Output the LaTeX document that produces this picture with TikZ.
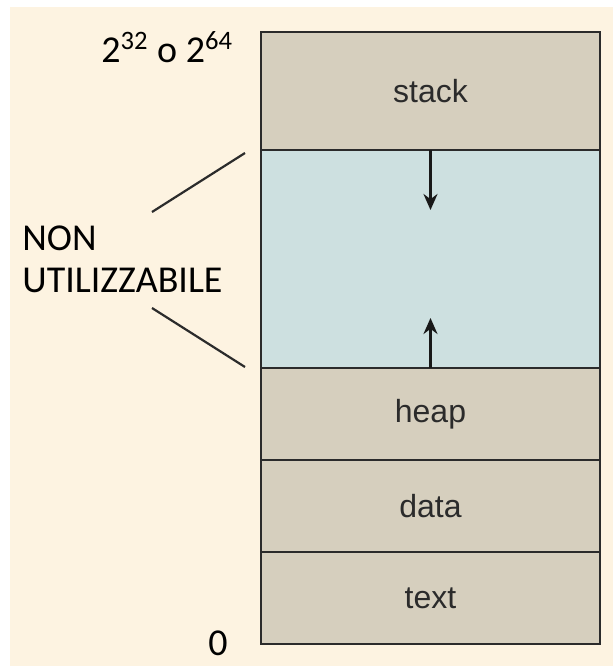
\documentclass[tikz,border=0pt]{standalone}
\usepackage{fontspec}
\setmainfont{Liberation Sans}
\newfontfamily\labfont{Carlito}
\usetikzlibrary{positioning}
\usetikzlibrary{arrows.meta}

\definecolor{cream}{HTML}{FDF3E1}
\definecolor{tan}{HTML}{D6CFBE}
\definecolor{gapblue}{HTML}{CDE0E0}
\definecolor{ink}{HTML}{2B2B2B}

\tikzset{
  seg/.style={draw=ink, line width=1pt, fill=tan, minimum width=169.5pt,
    inner sep=0pt, outer sep=0pt, font=\fontsize{16}{19}\selectfont, text=ink},
  growarrow/.style={-{Stealth[length=8pt,width=7pt]}, line width=1.7pt, black!90},
  leadline/.style={line width=1.1pt, ink},
  sidelabel/.style={inner sep=0pt, font=\labfont\fontsize{19}{21}\selectfont, text=black}
}

\begin{document}
\begin{tikzpicture}[x=0.5pt, y=-0.5pt]
  \useasboundingbox (0,0) rectangle (613,666);
  \fill[white] (0,0) rectangle (613,666);
  \fill[cream] (10,7) rectangle (613,666);

  % Memory layout
  \node[seg, minimum height=59pt, anchor=north west] (stack) at (261,32) {stack};
  \node[seg, minimum height=109pt, fill=gapblue, below=0pt of stack] (gap) {};
  \node[seg, minimum height=46pt, below=0pt of gap] (heap) {heap};
  \node[seg, minimum height=46pt, below=0pt of heap] (data) {data};
  \node[seg, minimum height=46pt, below=0pt of data] (text) {text};

  % Growth arrows
  \draw[growarrow] (gap.north) -- ++(0,60);
  \draw[growarrow] (gap.south) -- ++(0,-50);

  % Addresses
  \node[sidelabel, anchor=base west] (top) at (101,62) {2\textsuperscript{32} o 2\textsuperscript{64}};
  \node[sidelabel, anchor=base west] (zero) at (208,655) {0};

  % Unusable part
  \node[sidelabel, anchor=base west, align=left] (nonuse) at (22,292) {NON\\UTILIZZABILE};
  \coordinate (upA) at (152,212);
  \coordinate (upB) at (245,153);
  \coordinate (loA) at (152,308);
  \coordinate (loB) at (245,367);
  \draw[leadline] (upA) -- (upB);
  \draw[leadline] (loA) -- (loB);
\end{tikzpicture}
\end{document}
